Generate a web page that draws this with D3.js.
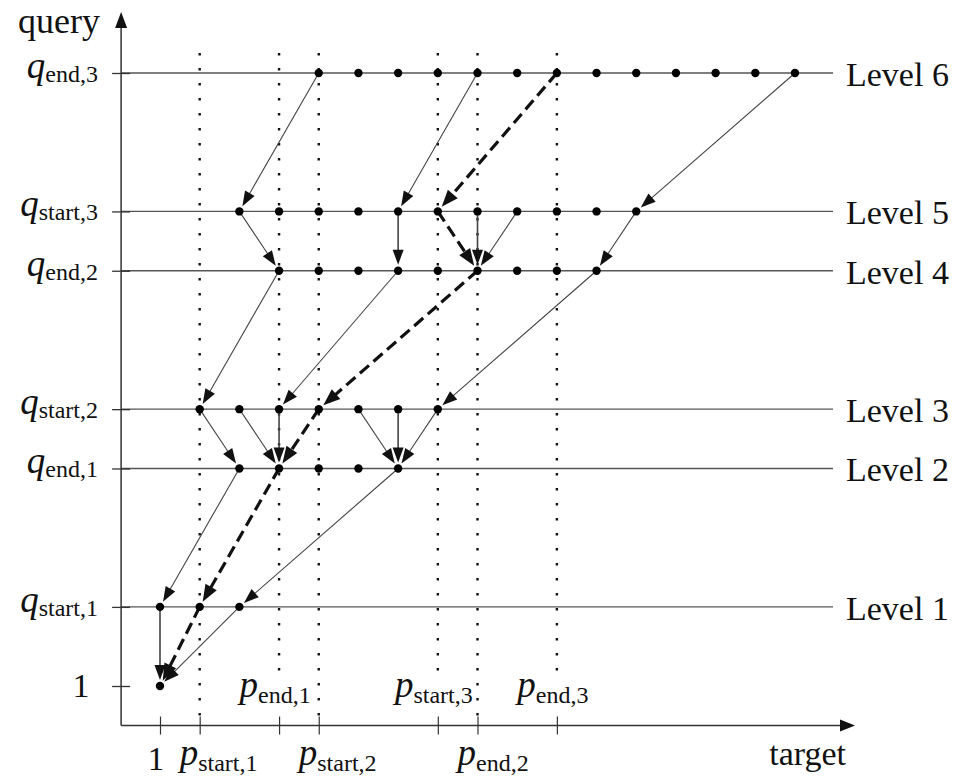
<!DOCTYPE html>
<html>
<head>
<meta charset="utf-8">
<script src="https://cdn.jsdelivr.net/npm/d3@7"></script>
<style>
  html, body { margin: 0; padding: 0; background: #fff; }
  svg { display: block; }
  svg text { font-family: "Liberation Serif", "Times New Roman", Times, "DejaVu Serif", serif; fill: #111; }
</style>
</head>
<body>
<svg id="chart" width="953" height="778"></svg>
<script>
// ---------------- data ----------------
const targetTicks = [1, 2, 4, 5, 8, 9, 11];
const targetMain  = ["1", "p", "p", "p", "p", "p", "p"];
const targetSub   = ["", "start,1", "end,1", "start,2", "start,3", "end,2", "end,3"];
const targetSide  = ["below", "below", "above", "below", "above", "below", "above"];
const dottedTargets = [2, 4, 5, 8, 9, 11];

const queryTicks = [1, 5, 12, 15, 22, 25, 32];
const queryMain  = ["1", "q", "q", "q", "q", "q", "q"];
const querySub   = ["", "start,1", "end,1", "start,2", "end,2", "start,3", "end,3"];

const levelNames = ["Level 1", "Level 2", "Level 3", "Level 4", "Level 5", "Level 6"];
const levelQuery = [5, 12, 15, 22, 25, 32];
const levelDots = [
  [1, 2, 3],
  [3, 4, 5, 6, 7],
  [2, 3, 4, 5, 6, 7, 8],
  [4, 5, 6, 7, 8, 9, 10, 11, 12],
  [3, 4, 5, 6, 7, 8, 9, 10, 11, 12, 13],
  [5, 6, 7, 8, 9, 10, 11, 12, 13, 14, 15, 16, 17]
];
const originDot = [1, 1];

// thin arrows: [fromTarget, fromQuery, toTarget, toQuery]
const thinArrows = [
  [5, 32, 3, 25], [3, 25, 4, 22], [4, 22, 2, 15], [2, 15, 3, 12], [3, 12, 1, 5], [1, 5, 1, 1],
  [9, 32, 7, 25], [7, 25, 7, 22], [7, 22, 4, 15], [3, 15, 4, 12], [4, 15, 4, 12],
  [6, 15, 7, 12], [7, 15, 7, 12], [8, 15, 7, 12], [7, 12, 3, 5], [3, 5, 1, 1],
  [10, 25, 9, 22], [9, 25, 9, 22], [17, 32, 13, 25], [13, 25, 12, 22], [12, 22, 8, 15]
];
// dashed optimal path: [target, query]
const dashedPath = [[11, 32], [8, 25], [9, 22], [5, 15], [4, 12], [2, 5], [1, 1]];

const axisTitleY = "query";
const axisTitleX = "target";

// ---------------- drawing ----------------
const FONT = '"Liberation Serif", "Times New Roman", Times, "DejaVu Serif", serif';
const svg = d3.select("#chart");
const x = d3.scaleLinear().domain([1, 17]).range([160, 795]);
const y = d3.scaleLinear().domain([1, 32]).range([686, 73]);

const axisX0 = x(0.02);      // y-axis position
const axisY0 = y(-1);        // x-axis position
const lineEnd = 833;

// vertical dotted lines
svg.append("g").selectAll("line").data(dottedTargets).join("line")
  .attr("x1", d => x(d)).attr("x2", d => x(d))
  .attr("y1", y(32) - 20)
  .attr("y2", d => targetSide[targetTicks.indexOf(d)] === "above" ? y(1) - 4 : axisY0 - 4)
  .attr("stroke", "#111").attr("stroke-width", 2.4)
  .attr("stroke-dasharray", "2.4 12.6");

// level lines
svg.append("g").selectAll("line").data(levelQuery).join("line")
  .attr("x1", axisX0).attr("x2", lineEnd)
  .attr("y1", d => y(d)).attr("y2", d => y(d))
  .attr("stroke", "#555").attr("stroke-width", 1.3);

// axes with ticks
const gx = svg.append("g").attr("transform", `translate(0,${axisY0 - 9})`)
  .call(d3.axisBottom(x).tickValues(targetTicks).tickSize(18).tickFormat(""));
gx.select(".domain").remove();
gx.selectAll(".tick line").attr("stroke", "#333").attr("stroke-width", 1.2);

const gy = svg.append("g").attr("transform", `translate(${axisX0 - 9},0)`)
  .call(d3.axisRight(y).tickValues(queryTicks).tickSize(18).tickFormat(""));
gy.select(".domain").remove();
gy.selectAll(".tick line").attr("stroke", "#333").attr("stroke-width", 1.3);

// axis lines + arrowheads
svg.append("line").attr("x1", axisX0).attr("x2", 842).attr("y1", axisY0).attr("y2", axisY0)
  .attr("stroke", "#333").attr("stroke-width", 1.5);
svg.append("line").attr("x1", axisX0).attr("x2", axisX0).attr("y1", axisY0).attr("y2", 26)
  .attr("stroke", "#333").attr("stroke-width", 1.5);
svg.append("path").attr("d", `M${855},${axisY0} L${840},${axisY0 - 6} L${840},${axisY0 + 6} Z`).attr("fill", "#111");
svg.append("path").attr("d", `M${axisX0},12 L${axisX0 - 6},28 L${axisX0 + 6},28 Z`).attr("fill", "#111");

// arrows helper
function arrowGeom(x0, y0, x1, y1, gap, len, half) {
  const dx = x1 - x0, dy = y1 - y0, L = Math.hypot(dx, dy);
  const ux = dx / L, uy = dy / L;
  const tx = x1 - ux * gap, ty = y1 - uy * gap;
  const bx = tx - ux * len, by = ty - uy * len;
  const px = -uy, py = ux;
  return {
    line: [x0, y0, bx + ux * 2, by + uy * 2],
    head: `M${tx},${ty} L${bx + px * half},${by + py * half} L${bx - px * half},${by - py * half} Z`
  };
}

const gArrows = svg.append("g");
thinArrows.forEach(a => {
  const g = arrowGeom(x(a[0]), y(a[1]), x(a[2]), y(a[3]), 6, 15, 5.5);
  gArrows.append("line").attr("x1", g.line[0]).attr("y1", g.line[1]).attr("x2", g.line[2]).attr("y2", g.line[3])
    .attr("stroke", "#444").attr("stroke-width", a[0] === a[2] ? 1.6 : 1.1);
  gArrows.append("path").attr("d", g.head).attr("fill", "#111");
});

for (let i = 0; i < dashedPath.length - 1; i++) {
  const p = dashedPath[i], q = dashedPath[i + 1];
  const g = arrowGeom(x(p[0]), y(p[1]), x(q[0]), y(q[1]), 6, 17, 6.5);
  gArrows.append("line").attr("x1", g.line[0]).attr("y1", g.line[1]).attr("x2", g.line[2]).attr("y2", g.line[3])
    .attr("stroke", "#111").attr("stroke-width", 3.2).attr("stroke-dasharray", "12 6");
  gArrows.append("path").attr("d", g.head).attr("fill", "#111");
}

// dots
const dotData = [];
levelDots.forEach((arr, i) => arr.forEach(t => dotData.push([t, levelQuery[i]])));
dotData.push(originDot);
svg.append("g").selectAll("circle").data(dotData).join("circle")
  .attr("cx", d => x(d[0])).attr("cy", d => y(d[1])).attr("r", 4.2).attr("fill", "#000");

// text helper
function txt(sel) { return sel.attr("font-family", FONT).attr("fill", "#111"); }

// level labels
svg.append("g").selectAll("text").data(levelNames).join("text")
  .attr("x", 846).attr("y", (d, i) => y(levelQuery[i]) + 13)
  .attr("font-family", FONT).attr("fill", "#111")
  .attr("font-size", 34).text(d => d);

// query labels
queryTicks.forEach((v, i) => {
  if (querySub[i] === "") {
    txt(svg.append("text")).attr("x", 81).attr("y", y(v) + 11).attr("text-anchor", "middle")
      .attr("font-size", 34).text(queryMain[i]);
  } else {
    const t = txt(svg.append("text")).attr("x", 98).attr("y", y(v) + 5).attr("text-anchor", "end");
    t.append("tspan").attr("font-style", "italic").attr("font-size", 37).text(queryMain[i]);
    t.append("tspan").attr("font-size", 24).attr("dy", 4).text(querySub[i]);
  }
});

// target labels
targetTicks.forEach((v, i) => {
  if (targetSub[i] === "") {
    txt(svg.append("text")).attr("x", x(v) - 4).attr("y", axisY0 + 44).attr("text-anchor", "middle")
      .attr("font-size", 33).text(targetMain[i]);
  } else if (targetSide[i] === "below") {
    const t = txt(svg.append("text")).attr("x", x(v) - 20).attr("y", axisY0 + 39).attr("text-anchor", "start");
    t.append("tspan").attr("font-style", "italic").attr("font-size", 37).text(targetMain[i]);
    t.append("tspan").attr("font-size", 24).attr("dy", 6).text(targetSub[i]);
  } else {
    const t = txt(svg.append("text")).attr("x", x(v) - 4).attr("y", y(1) + 11).attr("text-anchor", "middle");
    t.append("tspan").attr("font-style", "italic").attr("font-size", 37).text(targetMain[i]);
    t.append("tspan").attr("font-size", 24).attr("dy", 6).text(targetSub[i]);
  }
});

// axis titles
txt(svg.append("text")).attr("x", 18).attr("y", 33).attr("font-size", 36).text(axisTitleY);
txt(svg.append("text")).attr("x", 846).attr("y", 765).attr("text-anchor", "end").attr("font-size", 34).text(axisTitleX);
</script>
</body>
</html>
